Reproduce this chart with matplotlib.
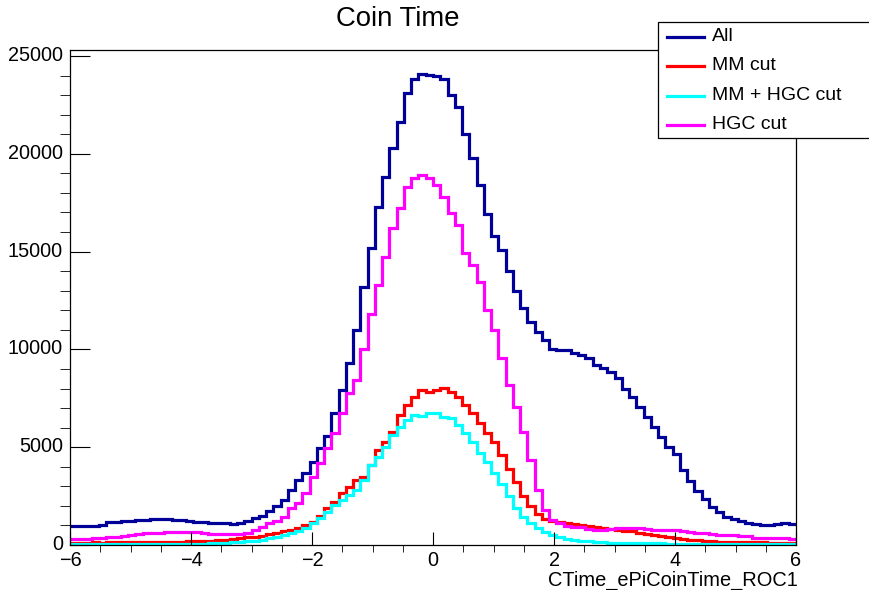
import numpy as np
import matplotlib
matplotlib.use("Agg")
import matplotlib.pyplot as plt
from matplotlib.lines import Line2D
from matplotlib.patches import Rectangle
from matplotlib.transforms import ScaledTranslation

plt.rcParams["font.family"] = ["Liberation Sans", "DejaVu Sans"]

# histogram binning: 100 bins from -6 to 6
edges = np.linspace(-6, 6, 101)

all_counts = [
    950, 960, 970, 980, 1000, 1190, 1200, 1220, 1250, 1280,
    1300, 1330, 1350, 1320, 1300, 1280, 1250, 1200, 1180, 1150,
    1130, 1100, 1050, 1150, 1250, 1400, 1500, 1750, 2000, 2300,
    2800, 3300, 3700, 4250, 4950, 5550, 6750, 7900, 9300, 11000,
    13200, 15200, 17300, 18800, 20300, 21600, 23100, 23800, 24100, 24050,
    24000, 23800, 23000, 22400, 21000, 19800, 18400, 16900, 15800, 15100,
    14000, 13000, 12100, 11400, 10900, 10500, 10000, 9950, 9950, 9800,
    9700, 9550, 9200, 9050, 8850, 8550, 7950, 7550, 7050, 6550,
    6050, 5500, 5000, 4650, 3850, 3250, 2750, 2350, 1950, 1700,
    1450, 1350, 1250, 1150, 1050, 1000, 1000, 1080, 1100, 1050,
]

mm_counts = [
    120, 110, 120, 130, 120, 130, 140, 130, 140, 150,
    140, 150, 160, 150, 160, 170, 180, 190, 210, 220,
    250, 280, 320, 350, 400, 430, 480, 560, 620, 700,
    780, 880, 1000, 1200, 1500, 1900, 2200, 2660, 2960, 3320,
    3470, 4090, 4850, 5260, 5770, 6640, 7150, 7560, 7920, 7820,
    7920, 8020, 7820, 7560, 7150, 6740, 6230, 5720, 5260, 4600,
    3900, 3200, 2500, 2000, 1600, 1350, 1250, 1200, 1150, 1050,
    1000, 950, 900, 850, 820, 780, 740, 700, 620, 560,
    500, 450, 400, 350, 300, 270, 240, 210, 190, 170,
    160, 150, 140, 140, 130, 130, 120, 120, 110, 110,
]

mm_hgc_counts = [
    40, 40, 40, 40, 40, 40, 40, 50, 50, 50,
    50, 50, 50, 60, 60, 60, 60, 70, 70, 80,
    90, 110, 130, 160, 190, 230, 280, 340, 410, 500,
    610, 700, 870, 1120, 1380, 1690, 2040, 2300, 2550, 2810,
    3320, 4090, 4500, 5010, 5620, 6030, 6390, 6640, 6600, 6740,
    6740, 6540, 6490, 6130, 5720, 5260, 4700, 4240, 3700, 3100,
    2500, 1900, 1450, 1100, 850, 650, 500, 400, 330, 270,
    220, 190, 160, 140, 120, 110, 100, 100, 90, 90,
    80, 80, 70, 70, 70, 60, 60, 60, 50, 50,
    50, 50, 40, 40, 40, 40, 40, 30, 30, 30,
]

hgc_counts = [
    300, 300, 320, 350, 380, 400, 430, 470, 520, 560,
    600, 620, 620, 640, 650, 660, 660, 640, 600, 580,
    580, 560, 540, 560, 620, 750, 920, 1100, 1250, 1430,
    1890, 2150, 2660, 3470, 4190, 4950, 5720, 6740, 7770, 8430,
    10000, 11800, 13300, 14710, 16200, 17220, 18290, 18750, 18900, 18750,
    18390, 17780, 16960, 16350, 14920, 14300, 13440, 12000, 10980, 9550,
    8170, 7050, 5770, 4340, 2800, 1790, 1280, 1100, 950, 920,
    900, 800, 780, 770, 800, 850, 870, 880, 870, 800,
    780, 770, 770, 760, 740, 650, 620, 610, 580, 520,
    510, 500, 480, 450, 380, 370, 360, 350, 340, 330,
]

labels = ["All", "MM cut", "MM + HGC cut", "HGC cut"]
colors = ["#000099", "#ff0000", "#00ffff", "#ff00ff"]
series = [all_counts, mm_counts, mm_hgc_counts, hgc_counts]

W, H = 869, 590
fig = plt.figure(figsize=(W / 100, H / 100), dpi=100)
ax = fig.add_axes([70 / W, 45 / H, 726 / W, 495 / H])

for vals, col in zip(series, colors):
    ax.stairs(vals, edges, color=col, lw=2.3, baseline=None)

ax.set_xlim(-6, 6)
ax.set_ylim(0, 1.05 * max(all_counts))
ax.set_xticks(np.arange(-6, 7, 2))
ax.set_xticks(np.arange(-6, 6.01, 0.5), minor=True)
ax.set_yticks(np.arange(0, 25001, 5000))
ax.set_yticks(np.arange(0, 25001, 1000), minor=True)
ax.tick_params(axis="both", direction="in", labelsize=14.3, colors="black")
ax.tick_params(axis="x", which="major", length=9.5, pad=4)
ax.tick_params(axis="x", which="minor", length=5)
ax.tick_params(axis="y", which="major", length=14.5, pad=5)
ax.tick_params(axis="y", which="minor", length=7.2)
ax.tick_params(top=False, right=False, which="both")
for sp in ax.spines.values():
    sp.set_linewidth(0.9)

# nudge y labels up a touch so "0" clears "-6"
lift = ScaledTranslation(0, 2.5 / 100, fig.dpi_scale_trans)
for lab in ax.get_yticklabels():
    lab.set_transform(lab.get_transform() + lift)

# title and axis label placed like the ROOT canvas
fig.text(398 / W, 1 - 19 / H, "Coin Time", ha="center", va="center", fontsize=19.8)
fig.text(798 / W, 1 - 580.5 / H, "CTime_ePiCoinTime_ROC1", ha="right", va="center", fontsize=14.4)

# legend box (runs off the right edge of the canvas)
fig.add_artist(Rectangle((658 / W, 1 - 138 / H), 230 / W, 116 / H,
                         transform=fig.transFigure, facecolor="white",
                         edgecolor="black", lw=0.9))
rows = [36.5, 66, 95.5, 124.5]
for lab, col, yy in zip(labels, colors, rows):
    fig.add_artist(Line2D([667 / W, 704 / W], [1 - yy / H, 1 - yy / H],
                          transform=fig.transFigure, color=col, lw=2.3))
    fig.text(712 / W, 1 - yy / H, lab, ha="left", va="center", fontsize=14)

fig.savefig("out.png", dpi=100)
